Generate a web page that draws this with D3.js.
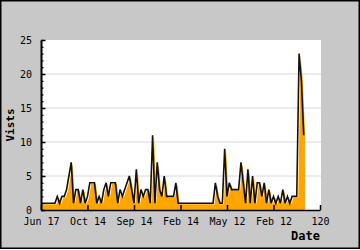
<!DOCTYPE html>
<html>
<head>
<meta charset="utf-8">
<script src="https://cdn.jsdelivr.net/npm/d3@7"></script>
<style>
    body { margin: 0; }
    svg { display: block; }
    text { font-family: "DejaVu Sans Mono", monospace; }
</style>
</head>
<body>
<svg id="chart"></svg>
<script>
const width = 360;
const height = 250;
const plotLeft = 41;
const plotRight = 320;
const plotTop = 40;
const plotBottom = 210;

// visits per index (0..113)
const visits = [
    1, 1, 1, 1, 1, 1, 1, 2, 1, 2, 2, 3, 5, 7, 1, 3, 3, 1, 3, 1,
    2, 4, 4, 4, 1, 2, 1, 3, 4, 2, 4, 4, 4, 1, 3, 2, 3, 4, 5, 3,
    1, 6, 1, 3, 2, 3, 3, 1, 11, 1, 7, 3, 2, 5, 2, 2, 2, 2, 4, 1,
    1, 1, 1, 1, 1, 1, 1, 1, 1, 1, 1, 1, 1, 1, 1, 4, 2, 1, 1, 9,
    2, 4, 3, 3, 3, 3, 7, 4, 1, 6, 1, 5, 1, 4, 4, 2, 4, 1, 3, 1,
    2, 1, 2, 1, 3, 1, 2, 1, 2, 2, 2, 23, 19, 11
];
const xTicks = [0, 20, 40, 60, 80, 100, 120];
const xTickLabels = ['Jun 17', 'Oct 14', 'Sep 14', 'Feb 14', 'May 12', 'Feb 12', '120'];
const yTicks = [0, 5, 10, 15, 20, 25];
const yGrid = [5, 10, 15, 20];

const svg = d3.select('#chart')
    .attr('width', width)
    .attr('height', height);

svg.append('rect')
    .attr('x', 0.75).attr('y', 0.75)
    .attr('width', width - 1.5).attr('height', height - 2.5)
    .attr('fill', '#c8c8c8')
    .attr('stroke', '#000')
    .attr('stroke-width', 1.5);

const x = d3.scaleLinear().domain([0, 120]).range([plotLeft, plotRight]);
const y = d3.scaleLinear().domain([0, 25]).range([plotBottom, plotTop]);

svg.append('rect')
    .attr('x', plotLeft).attr('y', plotTop)
    .attr('width', plotRight - plotLeft + 1).attr('height', plotBottom - plotTop)
    .attr('fill', '#fff');

svg.append('g').selectAll('line').data(yGrid)
    .enter()
    .append('line')
    .attr('x1', plotLeft).attr('x2', plotRight + 1)
    .attr('y1', d => y(d)).attr('y2', d => y(d))
    .attr('stroke', '#d8d8d8')
    .attr('stroke-width', 1);

const points = visits.map((v, i) => ({i: i, v: v}));

svg.append('path').datum(points)
    .attr('transform', 'translate(1.5, 1)')
    .attr('fill', 'orange')
    .attr('d', d3.area()
        .x(d => x(d.i))
        .y0(y(0))
        .y1(d => y(d.v)));

svg.append('path').datum(points)
    .attr('fill', 'none')
    .attr('stroke', '#111')
    .attr('stroke-width', 1.6)
    .attr('stroke-linejoin', 'miter')
    .attr('d', d3.line()
        .x(d => x(d.i))
        .y(d => y(d.v)));

// minor y ticks
svg.append('g')
    .attr('transform', `translate(${plotLeft}, 0)`)
    .call(d3.axisLeft(y).ticks(25).tickSize(-2.5).tickFormat(''))
    .call(g => g.select('.domain').remove())
    .selectAll('line').attr('stroke-width', 1.2);

const yAxis = svg.append('g')
    .attr('transform', `translate(${plotLeft}, 0)`)
    .call(d3.axisLeft(y).tickValues(yTicks).tickSize(-4.5).tickSizeOuter(0).tickPadding(9));
yAxis.select('.domain').attr('stroke-width', 2);
yAxis.selectAll('line').attr('stroke-width', 1.5);
yAxis.selectAll('text')
    .attr('font-family', 'DejaVu Sans Mono')
    .attr('font-size', 10)
    .attr('fill', '#000');

const xAxis = svg.append('g')
    .attr('transform', `translate(0, ${plotBottom})`)
    .call(d3.axisBottom(x).tickValues(xTicks).tickSize(-5).tickSizeOuter(0).tickPadding(8)
        .tickFormat((d, i) => xTickLabels[i]));
xAxis.select('.domain').attr('stroke-width', 1.5);
xAxis.selectAll('line').attr('stroke-width', 1.5);
xAxis.selectAll('text')
    .attr('font-family', 'DejaVu Sans Mono')
    .attr('font-size', 10)
    .attr('fill', '#000');

svg.append('text')
    .attr('transform', `translate(13.5, ${(plotTop + plotBottom) / 2}) rotate(-90)`)
    .attr('text-anchor', 'middle')
    .attr('font-size', 11)
    .attr('font-weight', 'bold')
    .text('Vists');

svg.append('text')
    .attr('x', plotRight)
    .attr('y', 240)
    .attr('text-anchor', 'end')
    .attr('font-size', 12)
    .attr('font-weight', 'bold')
    .text('Date');
</script>
</body>
</html>
